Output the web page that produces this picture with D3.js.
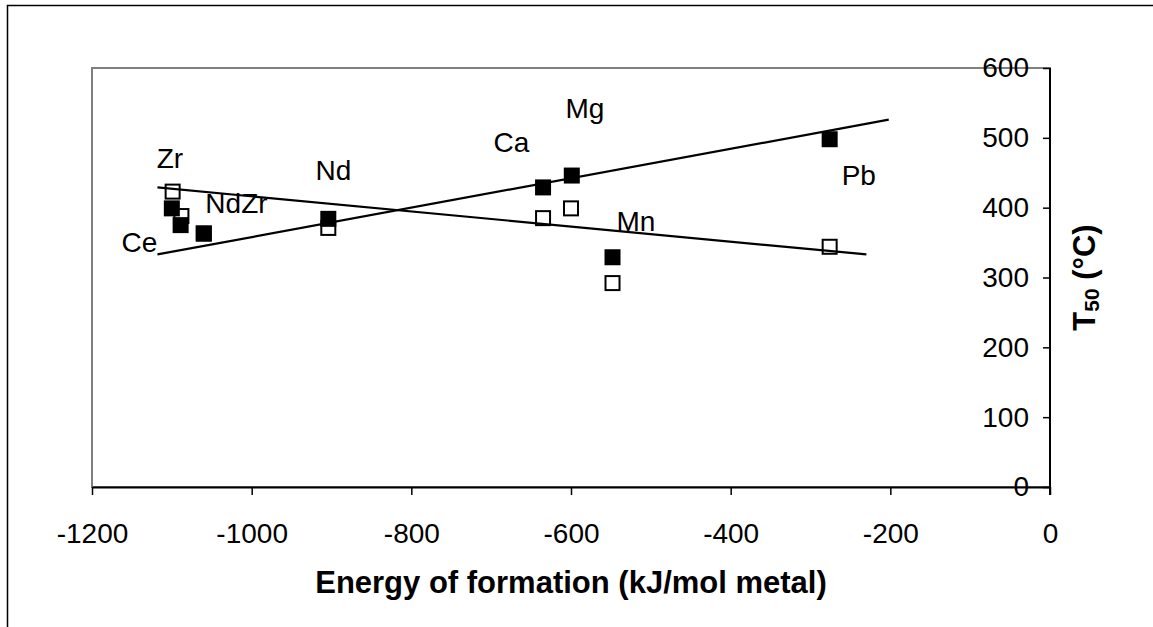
<!DOCTYPE html>
<html>
<head>
<meta charset="utf-8">
<script src="https://cdn.jsdelivr.net/npm/d3@7"></script>
<style>
  html, body { margin: 0; padding: 0; background: #fff; }
  svg { display: block; font-family: "Liberation Sans", Arial, sans-serif; }
</style>
</head>
<body>
<svg id="chart" width="1153" height="627"></svg>
<script>
// ---------------- data ----------------
const metals = ["Zr", "Ce", "NdZr", "Nd", "Ca", "Mg", "Mn", "Pb"];
const energy = [-1100, -1089, -1060, -904, -635, -599, -548, -276];       // filled series x
const t50Filled = [399, 375, 363, 384, 429, 446, 329, 498];
const energyOpen = [-1099, -1088, -1060, -904, -635, -600, -548, -276];  // open series x
const t50Open = [423, 388, 363, 371, 385, 399, 292, 344];

// trendline end points (x values and y values)
const trendFilledX = [-1118, -202];
const trendFilledY = [333, 526];
const trendOpenX = [-1118, -230];
const trendOpenY = [429, 333];

// point label anchor positions (data units)
const labelText = ["Zr", "Ce", "NdZr", "Nd", "Ca", "Mg", "Mn", "Pb"];
const labelX = [-1119, -1163, -1058, -920, -697, -607, -543, -261];
const labelY = [457, 336, 392, 440, 480, 528, 366, 433];

const xTicks = [-1200, -1000, -800, -600, -400, -200, 0];
const yTicks = [0, 100, 200, 300, 400, 500, 600];
const xTitle = "Energy of formation (kJ/mol metal)";

// ---------------- layout ----------------
const svg = d3.select("#chart");
const L = 92, R = 1050, T = 68, B = 487;

const x = d3.scaleLinear().domain([-1200, 0]).range([L, R]);
const y = d3.scaleLinear().domain([0, 600]).range([B, T]);

// outer chart border
svg.append("rect")
  .attr("x", 7.5).attr("y", 5.5)
  .attr("width", 1300).attr("height", 800)
  .attr("fill", "none").attr("stroke", "#000").attr("stroke-width", 1.5);

// plot area border (grey)
svg.append("rect")
  .attr("x", L).attr("y", T)
  .attr("width", R - L).attr("height", B - T)
  .attr("fill", "none").attr("stroke", "#808080").attr("stroke-width", 2);

// markers: open series
const sq = 16;
svg.append("g").selectAll("rect")
  .data(d3.range(energyOpen.length))
  .join("rect")
  .attr("x", i => x(energyOpen[i]) - (sq - 2) / 2)
  .attr("y", i => y(t50Open[i]) - (sq - 2) / 2)
  .attr("width", sq - 2).attr("height", sq - 2)
  .attr("fill", "#fff").attr("stroke", "#000").attr("stroke-width", 2);

// markers: filled series
svg.append("g").selectAll("rect")
  .data(d3.range(energy.length))
  .join("rect")
  .attr("x", i => x(energy[i]) - sq / 2)
  .attr("y", i => y(t50Filled[i]) - sq / 2)
  .attr("width", sq).attr("height", sq)
  .attr("fill", "#000");

// trendlines
const line = d3.line().x(d => x(d[0])).y(d => y(d[1]));
svg.append("path")
  .attr("d", line(d3.zip(trendFilledX, trendFilledY)))
  .attr("fill", "none").attr("stroke", "#000").attr("stroke-width", 2.2);
svg.append("path")
  .attr("d", line(d3.zip(trendOpenX, trendOpenY)))
  .attr("fill", "none").attr("stroke", "#000").attr("stroke-width", 2.2);

// point labels
svg.append("g").selectAll("text")
  .data(d3.range(labelText.length))
  .join("text")
  .attr("x", i => x(labelX[i]))
  .attr("y", i => y(labelY[i]))
  .attr("font-size", 28)
  .attr("fill", "#000")
  .text(i => labelText[i]);

// x axis
const xAxis = svg.append("g")
  .attr("transform", `translate(0,${B})`)
  .call(d3.axisBottom(x).tickValues(xTicks).tickSize(8).tickSizeOuter(0).tickFormat(d3.format("d")));
xAxis.select(".domain").attr("stroke", "#000").attr("stroke-width", 2);
xAxis.selectAll(".tick line").attr("stroke", "#000").attr("stroke-width", 1.5);
xAxis.selectAll(".tick text")
  .attr("y", 56).attr("dy", 0)
  .attr("font-size", 28).attr("font-family", "Liberation Sans, Arial, sans-serif")
  .attr("fill", "#000")
  .text(d => d3.format("d")(d).replace("−", "-"));

// y axis (on the right, ticks and labels inside)
const yAxis = svg.append("g")
  .attr("transform", `translate(${R},0)`)
  .call(d3.axisLeft(y).tickValues(yTicks).tickSize(7).tickPadding(14).tickSizeOuter(0));
yAxis.select(".domain").attr("stroke", "#000").attr("stroke-width", 2)
  .attr("d", `M0,${T}V${B + 8}`);
yAxis.selectAll(".tick line").attr("stroke", "#000").attr("stroke-width", 1.5);
yAxis.selectAll(".tick text")
  .attr("font-size", 28).attr("font-family", "Liberation Sans, Arial, sans-serif")
  .attr("fill", "#000");

// x title
svg.append("text")
  .attr("x", (L + R) / 2).attr("y", 593)
  .attr("text-anchor", "middle")
  .attr("font-size", 31).attr("font-weight", "bold")
  .text(xTitle);

// y title
const yt = svg.append("text")
  .attr("transform", `translate(1095,${(T + B) / 2}) rotate(-90)`)
  .attr("text-anchor", "middle")
  .attr("font-size", 31).attr("font-weight", "bold");
yt.append("tspan").text("T");
yt.append("tspan").attr("font-size", 21).attr("dy", 4).text("50");
yt.append("tspan").attr("dy", -4).text(" (°C)");
</script>
</body>
</html>
